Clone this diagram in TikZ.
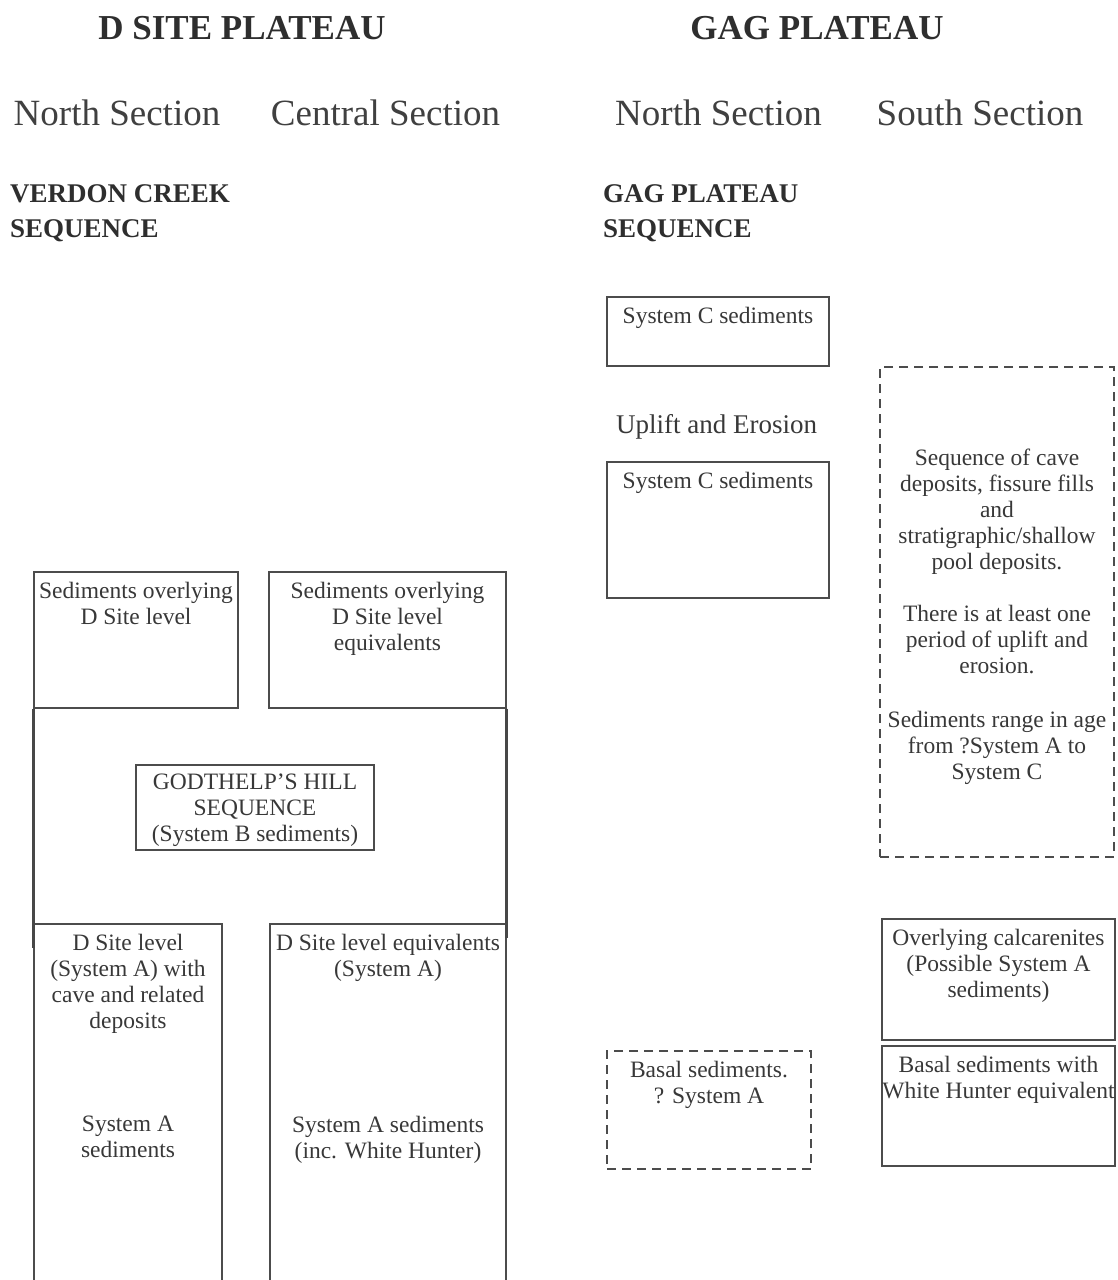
\documentclass[tikz,border=0pt]{standalone}
\usepackage{fontspec}
\setmainfont{Liberation Serif}
\usetikzlibrary{positioning}
\begin{document}
\begin{tikzpicture}[x=1pt,y=-1pt,
	unit/.style={draw=black!70,line width=1.4pt,inner sep=0pt},
	guess/.style={unit,dash pattern=on 9pt off 6pt},
	frame/.style={draw=black!72,line width=3pt},
	boxtext/.style={text=black!78,align=center,inner sep=0pt,font=\fontsize{23.5}{26}\selectfont},
	plateau/.style={text=black!82,inner sep=0pt,font=\bfseries\fontsize{35}{40}\selectfont},
	section/.style={text=black!75,inner sep=0pt,font=\fontsize{37}{42}\selectfont},
	sequence/.style={text=black!82,align=left,inner sep=0pt,anchor=north west,font=\bfseries\fontsize{27}{35}\selectfont}]
	\useasboundingbox (0,0) rectangle (1117,1280);
	% headings
	\node[plateau] (dplat) at (242,28) {D SITE PLATEAU};
	\node[plateau] (gplat) at (817,28) {GAG PLATEAU};
	\node[section] (dnorth) at (117,113) {North Section};
	\node[section] (dcentral) at (385.5,113) {Central Section};
	\node[section] (gnorth) at (718.5,113) {North Section};
	\node[section] (gsouth) at (980,113) {South Section};
	\node[sequence] (verdon) at (10,184) {VERDON CREEK\\SEQUENCE};
	\node[sequence] (gagseqt) at (603,184) {GAG PLATEAU\\SEQUENCE};
	% GAG plateau, north section
	\node[unit,minimum width=222,minimum height=69] (sysc1) at (718,331.5) {};
	\node[boxtext,below=11pt of sysc1.north] (sysc1t) {System C sediments};
	\node[boxtext,font=\fontsize{27}{30}\selectfont] (uplift) at (716.5,427) {Uplift and Erosion};
	\node[unit,minimum width=222,minimum height=136] (sysc2) at (718,530) {};
	\node[boxtext,below=11pt of sysc2.north] (sysc2t) {System C sediments};
	\node[guess,minimum width=204,minimum height=118] (basal) at (709,1110) {};
	\node[boxtext,below=11pt of basal.north] (basalt) {Basal sediments.\\? System A};
	% GAG plateau, south section
	\node[guess,minimum width=234,minimum height=490] (gagseq) at (997,612) {};
	\node[boxtext] (gagseqtxt) at (997,617)
	{Sequence of cave\\deposits, fissure fills\\and\\stratigraphic/shallow\\pool deposits.\\[26pt]
		There is at least one\\period of uplift and\\erosion.\\[28pt]
		Sediments range in age\\from ?System A to\\System C};
	\node[unit,minimum width=233,minimum height=121] (calc) at (998.5,979.5) {};
	\node[boxtext,below=11pt of calc.north] (calct) {Overlying calcarenites\\(Possible System A\\sediments)};
	\node[unit,minimum width=233,minimum height=120] (basalwh) at (998.5,1106) {};
	\node[boxtext,below=11pt of basalwh.north] (basalwht) {Basal sediments with\\White Hunter equivalent};
	% D site plateau
	\node[unit,minimum width=204,minimum height=136] (overdsite) at (136,640) {};
	\node[boxtext,below=11pt of overdsite.north] (overdsitet) {Sediments overlying\\D Site level};
	\node[unit,minimum width=237,minimum height=136] (overequiv) at (387.5,640) {};
	\node[boxtext,below=11pt of overequiv.north] (overequivt) {Sediments overlying\\D Site level\\equivalents};
	\node[unit,minimum width=238,minimum height=85] (godthelp) at (255,807.5) {};
	\node[boxtext] (godthelpt) at (255,810) {GODTHELP'S HILL\\SEQUENCE\\(System B sediments)};
	\node[unit,minimum width=188,minimum height=400] (dsite) at (128,1124) {};
	\node[boxtext,below=11pt of dsite.north] (dsitet) {D Site level\\(System A) with\\cave and related\\deposits};
	\node[boxtext,anchor=north] (dsitesed) at (128,1116) {System A\\sediments};
	\node[unit,minimum width=236,minimum height=400] (equiv) at (388,1124) {};
	\node[boxtext,below=11pt of equiv.north] (equivt) {D Site level equivalents\\(System A)};
	\node[boxtext,anchor=north] (equivsed) at (388,1116) {System A sediments\\(inc. White Hunter)};
	\draw[frame] (overdsite.south west) -- ([yshift=-25pt]dsite.north west);
	\draw[frame] (overequiv.south east) -- ([yshift=-15pt]equiv.north east);
\end{tikzpicture}
\end{document}
